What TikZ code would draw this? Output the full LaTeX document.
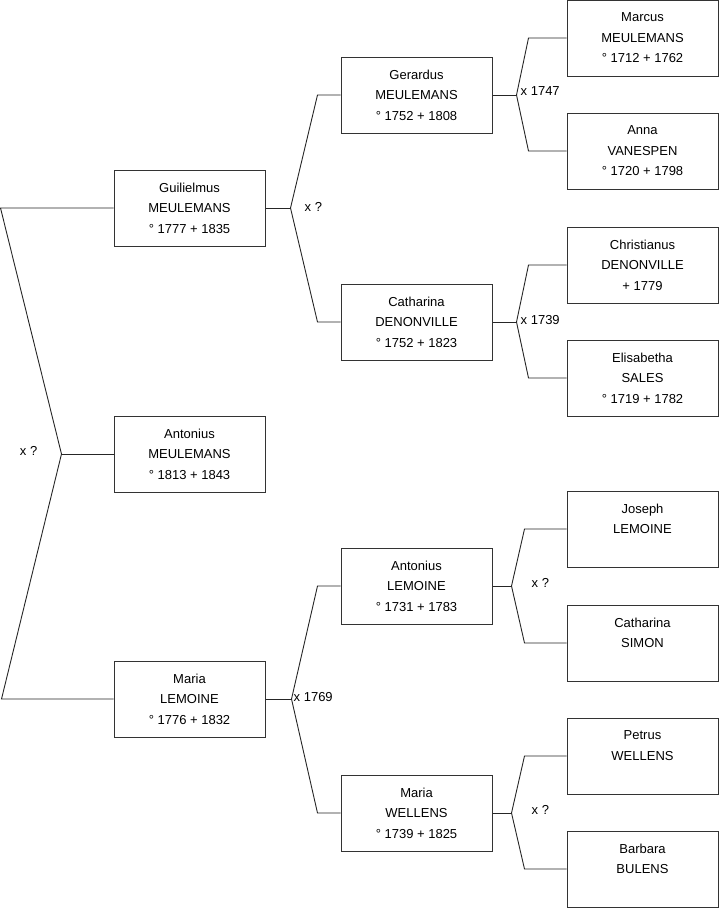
\documentclass[tikz,border=0pt]{standalone}
\usepackage{fontspec}
\setmainfont{Liberation Sans}
\usetikzlibrary{positioning}

\begin{document}
\begin{tikzpicture}[x=1pt, y=-1pt,
  person/.style={rectangle, draw=black!80, line width=1pt,
                 minimum width=151pt, minimum height=76pt, inner sep=0pt,
                 align=center, font=\fontsize{13}{20.5}\selectfont},
  link/.style={draw=black!85, line width=0.9pt},
  lbl/.style={inner sep=0pt, font=\fontsize{13}{15}\selectfont}
]
  \useasboundingbox (0,0) rectangle (719,908);

  % generation 1
  \node[person] (gui) at (189.5,208) {Guilielmus\\MEULEMANS\\° 1777 + 1835};
  \node[person] (anm) at (189.5,454) {Antonius\\MEULEMANS\\° 1813 + 1843};
  \node[person] (mal) at (189.5,699) {Maria\\LEMOINE\\° 1776 + 1832};

  % generation 2
  \node[person] (ger) at (416.5,95)  {Gerardus\\MEULEMANS\\° 1752 + 1808};
  \node[person] (cad) at (416.5,322) {Catharina\\DENONVILLE\\° 1752 + 1823};
  \node[person] (anl) at (416.5,586) {Antonius\\LEMOINE\\° 1731 + 1783};
  \node[person] (maw) at (416.5,813) {Maria\\WELLENS\\° 1739 + 1825};

  % generation 3
  \node[person] (mar) at (642.5,38)  {Marcus\\MEULEMANS\\° 1712 + 1762};
  \node[person] (ann) at (642.5,151) {Anna\\VANESPEN\\° 1720 + 1798};
  \node[person] (chr) at (642.5,265) {Christianus\\DENONVILLE\\+ 1779};
  \node[person] (eli) at (642.5,378) {Elisabetha\\SALES\\° 1719 + 1782};
  \node[person] (jos) at (642.5,529) {Joseph\\LEMOINE\\\mbox{}};
  \node[person] (cas) at (642.5,643) {Catharina\\SIMON\\\mbox{}};
  \node[person] (pet) at (642.5,756) {Petrus\\WELLENS\\\mbox{}};
  \node[person] (bar) at (642.5,869) {Barbara\\BULENS\\\mbox{}};

  % marriage forks
  \coordinate[left=52pt of anm]  (j0);
  \coordinate[right=25pt of gui] (f1);
  \coordinate[right=24pt of ger] (f2);
  \coordinate[right=24pt of cad] (f3);
  \coordinate[right=26pt of mal] (f4);
  \coordinate[right=19pt of anl] (f5);
  \coordinate[right=19pt of maw] (f6);

  \draw[link] (gui.west) -- ([xshift=-113pt]gui.west) -- (j0)
              -- ([xshift=-112pt]mal.west) -- (mal.west);
  \draw[link] (j0) -- (anm.west);

  \draw[link] (gui.east) -- (f1);
  \draw[link] (f1) -- ([xshift=-23pt]ger.west) -- (ger.west);
  \draw[link] (f1) -- ([xshift=-23pt]cad.west) -- (cad.west);

  \draw[link] (mal.east) -- (f4);
  \draw[link] (f4) -- ([xshift=-23pt]anl.west) -- (anl.west);
  \draw[link] (f4) -- ([xshift=-23pt]maw.west) -- (maw.west);

  \draw[link] (ger.east) -- (f2);
  \draw[link] (f2) -- ([xshift=-38pt]mar.west) -- (mar.west);
  \draw[link] (f2) -- ([xshift=-38pt]ann.west) -- (ann.west);

  \draw[link] (cad.east) -- (f3);
  \draw[link] (f3) -- ([xshift=-38pt]chr.west) -- (chr.west);
  \draw[link] (f3) -- ([xshift=-38pt]eli.west) -- (eli.west);

  \draw[link] (anl.east) -- (f5);
  \draw[link] (f5) -- ([xshift=-42pt]jos.west) -- (jos.west);
  \draw[link] (f5) -- ([xshift=-42pt]cas.west) -- (cas.west);

  \draw[link] (maw.east) -- (f6);
  \draw[link] (f6) -- ([xshift=-42pt]pet.west) -- (pet.west);
  \draw[link] (f6) -- ([xshift=-42pt]bar.west) -- (bar.west);

  % labels
  \node[lbl, left=24pt of j0, yshift=3pt]  (l0) {x ?};
  \node[lbl, right=14pt of f1, yshift=1pt] (l1) {x ?};
  \node[lbl, right=4pt of f2, yshift=4pt]  (l2) {x 1747};
  \node[lbl, right=4pt of f3, yshift=2pt]  (l3) {x 1739};
  \node[lbl, right=2pt of f4, yshift=2pt]  (l4) {x 1769};
  \node[lbl, right=20pt of f5, yshift=3pt] (l5) {x ?};
  \node[lbl, right=20pt of f6, yshift=3pt] (l6) {x ?};
\end{tikzpicture}
\end{document}
